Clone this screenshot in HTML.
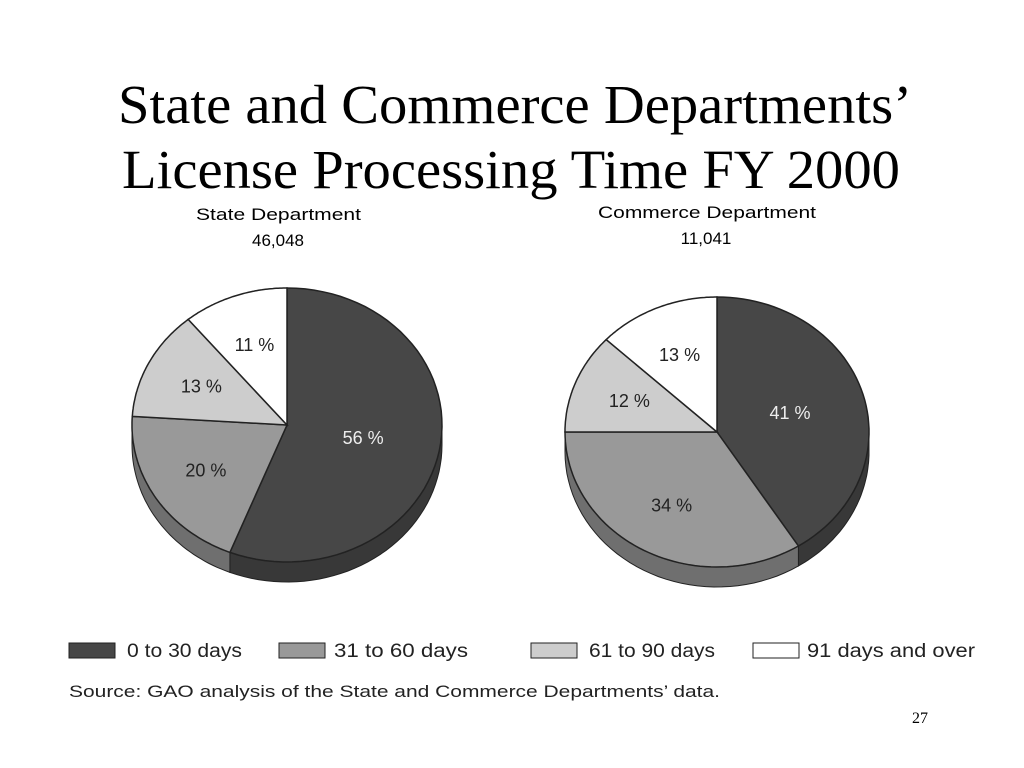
<!DOCTYPE html>
<html><head><meta charset="utf-8"><style>
html,body{margin:0;padding:0;background:#fff;}
svg{display:block;}
</style></head><body>
<svg id="chart" width="1024" height="768" viewBox="0 0 1024 768" xmlns="http://www.w3.org/2000/svg">
<text x="118" y="123" font-family="Liberation Serif, serif" font-size="55" textLength="794" lengthAdjust="spacingAndGlyphs">State and Commerce Departments’</text>
<text x="122" y="188" font-family="Liberation Serif, serif" font-size="55" textLength="778" lengthAdjust="spacingAndGlyphs">License Processing Time FY 2000</text>
<text x="196" y="220" font-family="Liberation Sans, sans-serif" font-size="17" textLength="165" lengthAdjust="spacingAndGlyphs">State Department</text>
<text x="278" y="246" text-anchor="middle" font-family="Liberation Sans, sans-serif" font-size="17">46,048</text>
<text x="598" y="218" font-family="Liberation Sans, sans-serif" font-size="17" textLength="218" lengthAdjust="spacingAndGlyphs">Commerce Department</text>
<text x="706" y="244" text-anchor="middle" font-family="Liberation Sans, sans-serif" font-size="17">11,041</text>
<g id="pies"></g>
<g id="legend"></g>
<text x="69" y="697" font-family="Liberation Sans, sans-serif" font-size="17" textLength="651" lengthAdjust="spacingAndGlyphs" fill="#222">Source: GAO analysis of the State and Commerce Departments’ data.</text>
<text x="928" y="723" text-anchor="end" font-family="Liberation Serif, serif" font-size="16">27</text>
</svg>
<script>
const categories = ["0 to 30 days","31 to 60 days","61 to 90 days","91 days and over"];
const stateValues = [56,20,13,11];
const commerceValues = [41,34,12,13];
const faceColors = ["#474747","#999999","#cdcdcd","#ffffff"];
const sideColors = ["#383838","#6f6f6f","#9a9a9a","#cccccc"];
const textColors = ["#eeeeee","#222222","#222222","#222222"];
const NS="http://www.w3.org/2000/svg";
function mk(tag,attrs,parent){const e=document.createElementNS(NS,tag);for(const k in attrs)e.setAttribute(k,attrs[k]);parent.appendChild(e);return e;}
const pies=document.getElementById('pies');
function pt(p,th,dy){return [p.cx+p.rx*Math.sin(th),p.cy-p.ry*Math.cos(th)+(dy||0)];}
function drawPie(values,p,name){
  const g=mk('g',{},pies);
  
  
  const total=values.reduce((a,b)=>a+b,0);
  let acc=0;const angles=[];
  values.forEach(v=>{const a0=acc/total*2*Math.PI;acc+=v;angles.push([a0,acc/total*2*Math.PI]);});
  angles.forEach(([a0,a1],i)=>{
    const s=Math.max(a0,Math.PI/2),e=Math.min(a1,3*Math.PI/2);
    if(e<=s)return;
    let d='';const N=40;
    for(let k=0;k<=N;k++){const t=s+(e-s)*k/N;const q=pt(p,t,0);d+=(k?'L':'M')+q[0].toFixed(1)+' '+q[1].toFixed(1);}
    for(let k=N;k>=0;k--){const t=s+(e-s)*k/N;const q=pt(p,t,p.d);d+='L'+q[0].toFixed(1)+' '+q[1].toFixed(1);}
    const side=mk('path',{d:d+'Z',fill:sideColors[i],stroke:'#222','stroke-width':1},g);
    
    
  });
  angles.forEach(([a0,a1],i)=>{
    let d='M'+p.cx+' '+p.cy;const N=60;
    for(let k=0;k<=N;k++){const t=a0+(a1-a0)*k/N;const q=pt(p,t,0);d+='L'+q[0].toFixed(1)+' '+q[1].toFixed(1);}
    const sl=mk('path',{d:d+'Z',fill:faceColors[i],stroke:'#222','stroke-width':1.5},g);
    
    
    const mid=(a0+a1)/2;const lr=i===0?0.5:0.62;
    const lx=p.cx+p.rx*lr*Math.sin(mid),ly=p.cy-p.ry*lr*Math.cos(mid);
    const t=mk('text',{x:lx,y:ly+6,'text-anchor':'middle','font-family':'Liberation Sans, sans-serif','font-size':18,fill:textColors[i]},g);
    
    
    t.textContent=values[i]+' %';
  });
}
drawPie(stateValues,{cx:287,cy:425,rx:155,ry:137,d:20},'state-pie');
drawPie(commerceValues,{cx:717,cy:432,rx:152,ry:135,d:20},'commerce-pie');
const legend=document.getElementById('legend');
const lx=[69,279,531,753];
const tx=[127,334,589,807];
const tw=[115,134,126,168];
categories.forEach((c,i)=>{
  const r=mk('rect',{x:lx[i],y:643,width:46,height:15,fill:faceColors[i],stroke:'#222','stroke-width':1},legend);
  
  
  const t=mk('text',{x:tx[i],y:657,'font-family':'Liberation Sans, sans-serif','font-size':19,textLength:tw[i],lengthAdjust:'spacingAndGlyphs',fill:'#222'},legend);
  
  
  t.textContent=c;
});
</script>
</body></html>
